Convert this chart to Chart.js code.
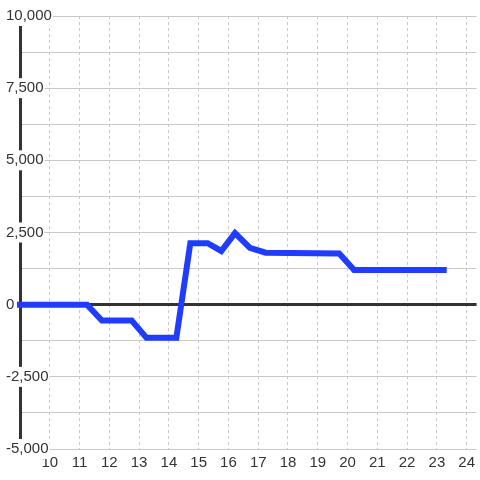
<!DOCTYPE html>
<html>
<head>
<meta charset="utf-8">
<script src="https://cdn.jsdelivr.net/npm/chart.js@4"></script>
<style>
    body { margin: 0; background: #fff; }
    #wrap { width: 480px; height: 480px; position: relative; }
</style>
</head>
<body>
<div id="wrap"><canvas id="myChart"></canvas></div>
<script>
const xValues = [8.9, 11.25, 11.75, 12.75, 13.25, 14.25, 14.72, 15.3, 15.76, 16.22, 16.72, 17.25, 19.72, 20.22, 23.33];
const yValues = [0, 0, -550, -550, -1150, -1150, 2130, 2130, 1860, 2480, 1970, 1800, 1770, 1200, 1200];
const xTicks = [10, 11, 12, 13, 14, 15, 16, 17, 18, 19, 20, 21, 22, 23, 24];
const yTicks = [-5000, -3750, -2500, -1250, 0, 1250, 2500, 3750, 5000, 6250, 7500, 8750, 10000];

Chart.defaults.font.family = "'Liberation Sans', Arial, sans-serif";
Chart.defaults.font.size = 15;
Chart.defaults.color = '#333';

const ctx = document.getElementById('myChart').getContext('2d');
const chart = new Chart(ctx, {
    type: 'line',
    data: {
        datasets: [{
            data: xValues.map((x, i) => ({ x: x, y: yValues[i] })),
            borderColor: '#1f3cff',
            borderWidth: 6,
            pointRadius: 0,
            tension: 0,
            fill: false,
            clip: false
        }]
    },
    options: {
        responsive: true,
        maintainAspectRatio: false,
        animation: false,
        layout: { padding: { left: 6, top: 16, right: 0, bottom: 3 } },
        plugins: {
            legend: { display: false },
            tooltip: { enabled: false }
        },
        scales: {
            x: {
                type: 'linear',
                min: 9,
                max: 24.333,
                afterBuildTicks: scale => { scale.ticks = xTicks.map(v => ({ value: v })); },
                ticks: {
                    padding: 5,
                    maxRotation: 0,
                    autoSkip: false,
                    callback: v => String(v)
                },
                grid: {
                    color: '#c8c8c8',
                    lineWidth: 1,
                    drawTicks: false,
                    borderDash: [3, 3]
                },
                border: { display: false, dash: [3, 3] }
            },
            y: {
                type: 'linear',
                min: -5000,
                max: 10000,
                afterBuildTicks: scale => { scale.ticks = yTicks.map(v => ({ value: v })); },
                afterFit: scale => { scale.width = 14; },
                ticks: {
                    mirror: true,
                    crossAlign: 'near',
                    padding: -14,
                    autoSkip: false,
                    showLabelBackdrop: true,
                    backdropPadding: 1,
                    backdropColor: c => (c.tick && c.tick.value % 2500 === 0) ? '#fff' : 'rgba(0,0,0,0)',
                    callback: v => v % 2500 === 0 ? v.toLocaleString('en-US') : ''
                },
                grid: {
                    color: c => c.tick && c.tick.value === 0 ? '#333' : '#c8c8c8',
                    lineWidth: c => c.tick && c.tick.value === 0 ? 3 : 1,
                    drawTicks: false
                },
                border: { display: true, color: '#333', width: 3 }
            }
        }
    }
});
</script>
</body>
</html>
